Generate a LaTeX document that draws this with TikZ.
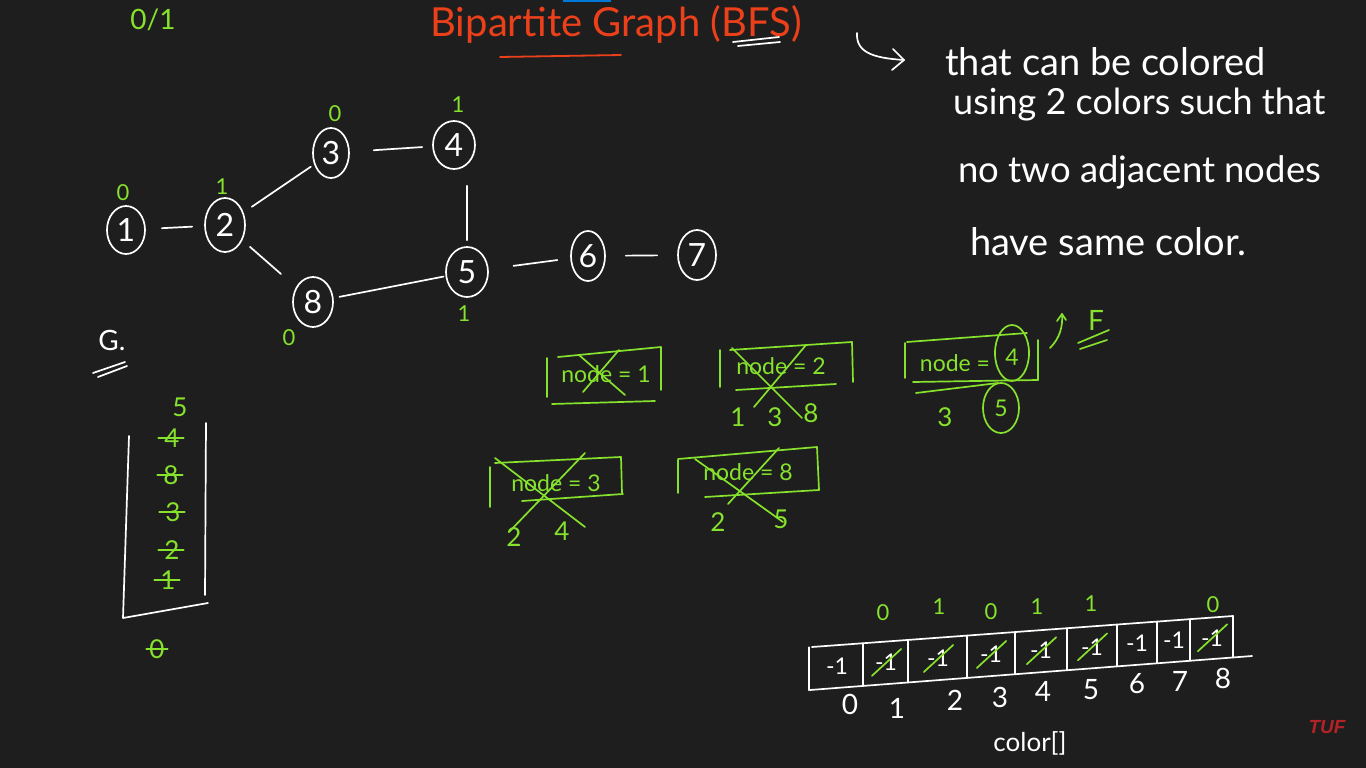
\documentclass[tikz,border=0pt]{standalone}
\usepackage{fontspec}
\setmainfont{Lato}
\newfontfamily\tuffont{Liberation Sans}
\usetikzlibrary{shapes.geometric}
\definecolor{bg}{RGB}{30,30,30}
\definecolor{grn}{RGB}{134,226,44}
\definecolor{ttl}{RGB}{236,64,26}
\definecolor{tufred}{RGB}{178,34,38}
\definecolor{blu}{RGB}{0,120,215}
\begin{document}
\begin{tikzpicture}[x=1pt,y=-1pt,
  wl/.style={draw=white,line width=1.7pt,line cap=round,line join=round},
  gl/.style={draw=grn,line width=1.7pt,line cap=round,line join=round},
  vtx/.style={ellipse,draw=white,line width=1.7pt,inner sep=0pt,text=white,font=\fontsize{32}{32}\selectfont},
  glab/.style={text=grn,font=\fontsize{22}{22}\selectfont,inner sep=0pt},
  gnum/.style={text=grn,font=\fontsize{26}{26}\selectfont,inner sep=0pt},
  wnum/.style={text=white,font=\fontsize{28}{28}\selectfont,inner sep=0pt},
  boxtxt/.style={text=grn,font=\fontsize{23}{23}\selectfont,inner sep=0pt},
  para/.style={text=white,inner sep=0pt,anchor=west},
  cell/.style={text=white,font=\fontsize{23}{23}\selectfont,inner sep=0pt},
]
\fill[bg] (0,0) rectangle (1366,768);
\useasboundingbox (0,0) rectangle (1366,768);
\fill[blu] (563,0) rectangle (611,2.5);

% title
\node[text=grn,font=\fontsize{28}{28}\selectfont,inner sep=0pt] (zo) at (153,20) {0/1};
\node[text=ttl,font=\fontsize{40}{40}\selectfont,inner sep=0pt] (title) at (616,24) {Bipartite Graph (BFS)};
\draw[draw=ttl,line width=1.8pt,line cap=round] (500,57) -- (621,55);
\draw[wl] (733,42) -- (779,37);
\draw[wl] (738,46) -- (780,42);

% definition
\coordinate (arrs) at (857,33);
\node[para,font=\fontsize{38}{38}\selectfont] (d1) at (945,62) {that can be colored};
\node[para,font=\fontsize{36}{36}\selectfont] (d2) at (953,105) {using 2 colors such that};
\node[para,font=\fontsize{36.5}{36.5}\selectfont] (d3) at (958,172) {no two adjacent nodes};
\node[para,font=\fontsize{38}{38}\selectfont] (d4) at (970,242) {have same color.};
\coordinate (arre) at (904,60);
\draw[wl] (arrs) .. controls (856,52) and (872,58) .. (arre);
\draw[wl] (893,49) -- (arre) -- (892,70);

% graph
\node[vtx,minimum width=38pt,minimum height=48pt] (n1) at (126,230) {1};
\node[vtx,minimum width=40pt,minimum height=54pt] (n2) at (225,225) {2};
\node[vtx,minimum width=36pt,minimum height=50pt] (n3) at (331,153) {3};
\node[vtx,minimum width=42pt,minimum height=48pt] (n4) at (454,145) {4};
\node[vtx,minimum width=42pt,minimum height=50pt] (n5) at (467,272) {5};
\node[vtx,minimum width=34pt,minimum height=50pt] (n6) at (588,256) {6};
\node[vtx,minimum width=38pt,minimum height=50pt] (n7) at (697,255) {7};
\node[vtx,minimum width=40pt,minimum height=50pt] (n8) at (313,302) {8};
\draw[wl,shorten <=16pt,shorten >=12pt] (n1) -- (n2);
\draw[wl,shorten <=10pt,shorten >=4pt] (n2) -- (n3);
\draw[wl,shorten <=10pt,shorten >=20pt] (n2) -- (n8);
\draw[wl,shorten <=24pt,shorten >=10pt] (n3) -- (n4);
\draw[wl,shorten <=16pt,shorten >=6pt] (n4.south -| n5.north) -- (n5.north);
\draw[wl,shorten <=6pt,shorten >=2pt] (n8) -- (n5);
\draw[wl,shorten <=25pt,shorten >=13pt] (n5) -- (n6);
\draw[wl,shorten <=20pt,shorten >=20pt] (n6) -- (n7);
\node[glab] (c1) at (123,193) {0};
\node[glab] (c2) at (222,187) {1};
\node[glab] (c3) at (335,114) {0};
\node[glab] (c4) at (458,105) {1};
\node[glab] (c5) at (464,314) {1};
\node[glab] (c8) at (289,338) {0};

% G
\node[text=white,font=\fontsize{28}{28}\selectfont,inner sep=0pt] (gl) at (112,340) {G.};
\draw[wl] (93,373) -- (125,362);
\draw[wl] (98,377) -- (127,366);

% queue
\coordinate (qa) at (129,436);
\coordinate (qb) at (123,618);
\coordinate (qc) at (208,603);
\coordinate (qd) at (206,423);
\draw[wl] (qa) -- (qb) -- (qc);
\draw[wl] (qd) -- (205,595);
\node[gnum] (q5) at (180,407) {5};
\node[gnum] (q4) at (172,438) {4};
\node[gnum] (q8) at (171,475) {8};
\node[gnum] (q3) at (173,512) {3};
\node[gnum] (q2) at (172,550) {2};
\node[gnum] (q1) at (168,580) {1};
\foreach \q in {q4,q8,q3,q2,q1} \draw[gl] ([xshift=-6pt]\q.west) -- ([xshift=4pt]\q.east);
\node[gnum] (q0) at (157,649) {0};
\draw[gl] ([xshift=-3pt]q0.west) -- ([xshift=3pt]q0.east);

% box 1
\node[boxtxt] (b1) at (606,374) {node = 1};
\draw[gl] (547,358) -- (547,397);
\draw[gl] (558,357) -- (661,347) -- (661,390);
\draw[gl] (552,404) -- (655,401);
\draw[gl] (579,355) -- (625,395);
\draw[gl] (619,350) -- (583,392);

% box 2
\node[boxtxt] (b2) at (781,366) {node = 2};
\draw[gl] (720,350) -- (720,387);
\draw[gl] (730,350) -- (852,342) -- (853,382);
\draw[gl] (736,390) -- (836,384);
\draw[gl] (732,348) -- (802,418);
\draw[gl] (806,345) -- (754,407);
\node[gnum] (b2a) at (738,417) {1};
\node[gnum] (b2b) at (775,417) {3};
\node[gnum] (b2c) at (811,413) {8};

% box 3
\node[boxtxt] (b3) at (955,363) {node =};
\node[boxtxt] (b3n) at (1012,357) {4};
\draw[gl] (905,343) -- (905,378);
\draw[gl] (907,342) -- (1027,333);
\draw[gl] (1038,340) -- (1038,380);
\draw[gl] (913,382) -- (1038,380);
\draw[gl] (916,393) -- (998,383);
\draw[gl] (1012,353) ellipse [x radius=17, y radius=28];
\node[boxtxt] (b3s) at (1001,408) {5};
\draw[gl] (1001,408) ellipse [x radius=18, y radius=25];
\node[gnum] (b3t) at (945,417) {3};
\draw[gl] (1050,348) .. controls (1060,338) and (1063,326) .. (1062,314);
\draw[gl] (1057,321) -- (1062,314) -- (1066,320);
\node[text=grn,font=\fontsize{28}{28}\selectfont,inner sep=0pt] (fl) at (1096,320) {F};
\draw[gl] (1078,343) -- (1109,330);
\draw[gl] (1080,349) -- (1107,340);

% box 4
\node[boxtxt] (b4) at (556,483) {node = 3};
\draw[gl] (490,467) -- (490,507);
\draw[gl] (495,463) -- (621,457) -- (622,493);
\draw[gl] (522,501) -- (623,494);
\draw[gl] (495,458) -- (585,527);
\draw[gl] (585,453) -- (509,532);
\node[gnum] (b4a) at (514,537) {2};
\node[gnum] (b4b) at (562,531) {4};

% box 5
\node[boxtxt] (b5) at (748,472) {node = 8};
\draw[gl] (678,460) -- (678,493);
\draw[gl] (678,459) -- (817,447) -- (819,490);
\draw[gl] (705,497) -- (819,490);
\draw[gl] (695,459) -- (783,522);
\draw[gl] (779,448) -- (728,504);
\node[gnum] (b5a) at (718,522) {2};
\node[gnum] (b5b) at (781,519) {5};

% colour array
\draw[wl] (812,647) -- (1233,616);
\draw[wl] (810,690) -- (1252,656);
\foreach \x in {809,863,908,967,1015,1067,1117,1157,1190,1233}
  \draw[wl] (\x,{647-0.0736*(\x-812)}) -- (\x,{690-0.0775*(\x-812)});
\foreach \i/\cx in {0/837,1/886,2/938,3/991,4/1041,5/1092,6/1137,7/1174,8/1212}
  \node[cell] (a\i) at (\cx,{668-0.0755*(\cx-812)}) {-1};
\foreach \i in {1,2,3,4,5,8}
  \draw[gl] ([xshift=-3pt,yshift=-5pt]a\i.south west) -- ([xshift=4pt,yshift=5pt]a\i.north east);
\foreach \i/\x/\y in {0/850/704,1/897/708,2/955/700,3/1000/697,4/1043/691,5/1091/690,6/1137/684,7/1180/681,8/1223/678}
  \node[wnum] (i\i) at (\x,\y) {\i};
\foreach \n/\v/\x/\y in {1/0/883/613,2/1/939/607,3/0/991/612,4/1/1037/607,5/1/1091/604,8/0/1213/605}
  \node[glab] (v\n) at (\x,\y) {\v};
\node[text=white,font=\fontsize{26}{26}\selectfont,inner sep=0pt] (cname) at (1030,743) {color[]};

\node[text=tufred,font=\tuffont\bfseries\itshape\fontsize{19}{19}\selectfont,inner sep=0pt] (tuf) at (1327,727) {TUF};
\end{tikzpicture}
\end{document}
